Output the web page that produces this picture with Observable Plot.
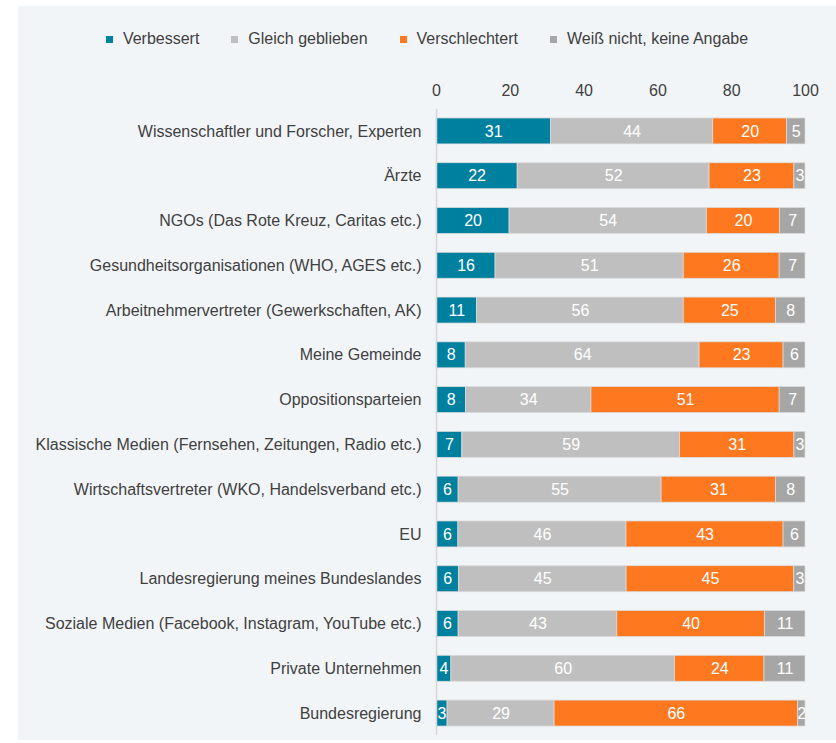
<!DOCTYPE html>
<html><head><meta charset="utf-8">
<script src="https://cdn.jsdelivr.net/npm/d3@7"></script>
<script src="https://cdn.jsdelivr.net/npm/@observablehq/plot@0.6"></script>
<style>
body{margin:0;background:#fff;font-family:"Liberation Sans",Arial,sans-serif;}
#panel{position:absolute;left:18px;top:6px;width:818px;height:734px;background:#f2f5f8;overflow:hidden;}
#legend{position:absolute;top:24px;left:0;width:818px;display:flex;justify-content:center;gap:32px;font-size:16px;line-height:18px;color:#404040;}
.item{display:flex;align-items:center;}
.sw{width:7px;height:7px;margin-right:10px;}
#chart{position:absolute;left:0;top:70px;}
</style></head>
<body>
<div id="panel"><div id="legend"></div><div id="chart"></div></div>
<script>
const categories = [
  "Wissenschaftler und Forscher, Experten",
  "Ärzte",
  "NGOs (Das Rote Kreuz, Caritas etc.)",
  "Gesundheitsorganisationen (WHO, AGES etc.)",
  "Arbeitnehmervertreter (Gewerkschaften, AK)",
  "Meine Gemeinde",
  "Oppositionsparteien",
  "Klassische Medien (Fernsehen, Zeitungen, Radio etc.)",
  "Wirtschaftsvertreter (WKO, Handelsverband etc.)",
  "EU",
  "Landesregierung meines Bundeslandes",
  "Soziale Medien (Facebook, Instagram, YouTube etc.)",
  "Private Unternehmen",
  "Bundesregierung"
];
const seriesNames = ["Verbessert", "Gleich geblieben", "Verschlechtert", "Weiß nicht, keine Angabe"];
const verbessert     = [31, 22, 20, 16, 11, 8, 8, 7, 6, 6, 6, 6, 4, 3];
const gleich         = [44, 52, 54, 51, 56, 64, 34, 59, 55, 46, 45, 43, 60, 29];
const verschlechtert = [20, 23, 20, 26, 25, 23, 51, 31, 31, 43, 45, 40, 24, 66];
const weissNicht     = [5, 3, 7, 7, 8, 6, 7, 3, 8, 6, 3, 11, 11, 2];
const tickLabels = [0, 20, 40, 60, 80, 100];
const colors = ["#00809f", "#bfbfbf", "#fd781e", "#a6a6a6"];

const seriesValues = [verbessert, gleich, verschlechtert, weissNicht];
const rows = [];
seriesNames.forEach((s, i) => categories.forEach((c, j) => rows.push({cat: c, series: s, value: seriesValues[i][j]})));

const legend = document.getElementById("legend");
seriesNames.forEach((s, i) => {
  const it = document.createElement("div"); it.className = "item";
  const sw = document.createElement("span"); sw.className = "sw"; sw.style.background = colors[i];
  const tx = document.createElement("span"); tx.textContent = s;
  it.appendChild(sw); it.appendChild(tx); legend.appendChild(it);
});

const plot = Plot.plot({
  width: 818, height: 664,
  marginLeft: 418, marginRight: 31, marginTop: 33, marginBottom: 5,
  style: {background: "transparent", fontFamily: "Liberation Sans, Arial, sans-serif", fontSize: "16px", color: "#404040"},
  x: {domain: [0, 1], axis: null},
  y: {domain: categories, paddingInner: 0.42, paddingOuter: 0.2, round: false, axis: null},
  color: {domain: seriesNames, range: colors},
  marks: [
    Plot.barX(rows, Plot.stackX({offset: "normalize", x: "value", y: "cat", z: "series", fill: "series", stroke: "#dcdcdc", strokeWidth: 0.75})),
    Plot.text(rows, Plot.stackX({offset: "normalize", x: "value", y: "cat", z: "series", text: "value", fill: "white", fontSize: 16})),
    Plot.ruleX([0], {stroke: "#d6d6d6", strokeWidth: 1.5}),
    Plot.axisX({anchor: "top", ticks: tickLabels.map(t => t / 100), tickFormat: d => String(Math.round(d * 100)), tickSize: 0, tickPadding: 14, line: true, stroke: "#d6d6d6", fill: "#404040", fontSize: 16, label: null}),
    Plot.axisY({tickSize: 0, tickPadding: 15, fill: "#404040", fontSize: 16, label: null})
  ]
});
document.getElementById("chart").appendChild(plot);
</script>
</body></html>
